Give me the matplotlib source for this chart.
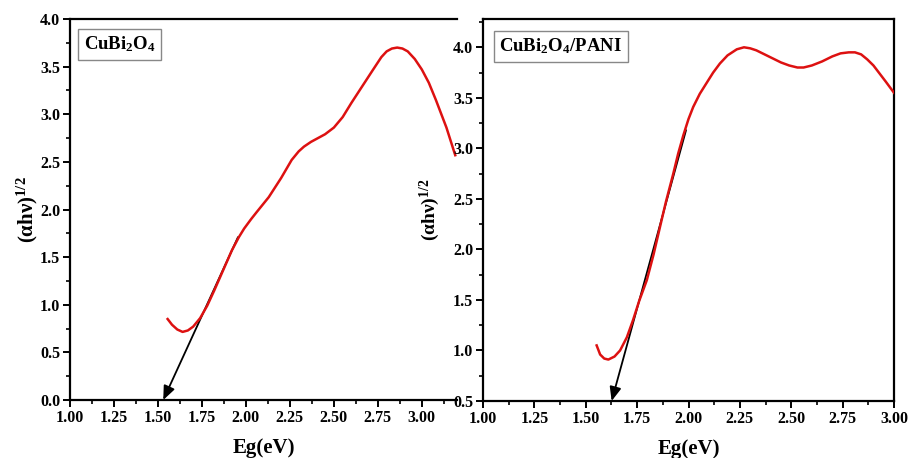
import matplotlib
matplotlib.use("Agg")
import matplotlib.pyplot as plt
from matplotlib.ticker import MultipleLocator, AutoMinorLocator, FormatStrFormatter

plt.rcParams['font.family'] = ['Liberation Serif', 'DejaVu Serif']
plt.rcParams['font.weight'] = 'bold'
plt.rcParams['mathtext.fontset'] = 'custom'
plt.rcParams['mathtext.rm'] = 'Liberation Serif:bold'
plt.rcParams['mathtext.it'] = 'Liberation Serif:bold'
plt.rcParams['mathtext.bf'] = 'Liberation Serif:bold'

# CuBi2O4
eg1 = [1.555, 1.58, 1.61, 1.64, 1.67, 1.70, 1.74, 1.78, 1.82, 1.87, 1.92, 1.96, 1.99,
       2.03, 2.06, 2.13, 2.20, 2.26, 2.30, 2.33, 2.37, 2.40, 2.45, 2.50, 2.55, 2.60,
       2.66, 2.72, 2.77, 2.80, 2.83, 2.86, 2.89, 2.92, 2.96, 3.00, 3.04, 3.08, 3.14, 3.19]
ah1 = [0.85, 0.79, 0.74, 0.715, 0.73, 0.77, 0.86, 0.99, 1.15, 1.36, 1.57, 1.71, 1.80,
       1.90, 1.97, 2.13, 2.33, 2.52, 2.61, 2.66, 2.71, 2.74, 2.79, 2.86, 2.97, 3.12,
       3.29, 3.46, 3.60, 3.66, 3.69, 3.70, 3.69, 3.66, 3.58, 3.47, 3.33, 3.15, 2.86, 2.57]
fit1_start = (1.955, 1.71)
fit1_end = (1.53, 0.0)

# CuBi2O4/PANI
eg2 = [1.553, 1.57, 1.59, 1.61, 1.64, 1.667, 1.70, 1.73, 1.76, 1.797, 1.83, 1.861, 1.89,
       1.926, 1.95, 1.975, 2.00, 2.023, 2.055, 2.089, 2.12, 2.153, 2.19, 2.235, 2.27,
       2.30, 2.33, 2.37, 2.41, 2.45, 2.49, 2.53, 2.56, 2.60, 2.65, 2.70, 2.74, 2.78,
       2.81, 2.84, 2.87, 2.90, 2.93, 2.96, 3.00]
ah2 = [1.05, 0.96, 0.92, 0.91, 0.94, 1.00, 1.13, 1.30, 1.49, 1.695, 1.95, 2.22, 2.47,
       2.75, 2.95, 3.13, 3.29, 3.41, 3.54, 3.65, 3.75, 3.84, 3.92, 3.98, 4.00,
       3.99, 3.97, 3.93, 3.89, 3.85, 3.82, 3.80, 3.80, 3.82, 3.86, 3.91, 3.94, 3.95,
       3.95, 3.93, 3.88, 3.82, 3.74, 3.66, 3.55]
fit2_start = (1.988, 3.18)
fit2_end = (1.626, 0.5)

labels = ['CuBi$_2$O$_4$', 'CuBi$_2$O$_4$/PANI']
xlabel = 'Eg(eV)'
ylabel = r'(αhν)$^{1/2}$'

W, H = 909, 458
fig = plt.figure(figsize=(W / 100, H / 100), dpi=100)

def box(l, r, t, b):
    return [l / W, 1 - b / H, (r - l) / W, (b - t) / H]

ax1 = fig.add_axes(box(70, 457, 19, 400))
ax2 = fig.add_axes(box(483, 894, 19, 401))

red = '#dd1111'
for ax in (ax1, ax2):
    for s in ax.spines.values():
        s.set_linewidth(1.6)
    ax.tick_params(which='major', direction='out', length=5, width=1.4, labelsize=11.5, pad=2)
    ax.tick_params(which='minor', direction='out', length=3, width=1.2)
    ax.xaxis.set_major_locator(MultipleLocator(0.25))
    ax.xaxis.set_minor_locator(AutoMinorLocator(2))
    ax.xaxis.set_major_formatter(FormatStrFormatter('%.2f'))
    ax.yaxis.set_major_locator(MultipleLocator(0.5))
    ax.yaxis.set_minor_locator(AutoMinorLocator(2))
    ax.yaxis.set_major_formatter(FormatStrFormatter('%.1f'))
    for lab in ax.get_xticklabels() + ax.get_yticklabels():
        lab.set_fontweight('bold')
    ax.set_xlabel(xlabel, fontsize=15, fontweight='bold', labelpad=9)

ax1.spines['right'].set_visible(False)
ax1.set_xlim(1.0, 3.2)
ax1.set_ylim(0.0, 4.0)
ax2.set_xlim(1.0, 3.0)
ax2.set_ylim(0.5, 4.28)

ax1.plot(eg1, ah1, color=red, lw=1.8, zorder=3)
ax2.plot(eg2, ah2, color=red, lw=1.8, zorder=3)

for ax, s, e in ((ax1, fit1_start, fit1_end), (ax2, fit2_start, fit2_end)):
    ax.annotate('', xy=e, xytext=s,
                arrowprops=dict(arrowstyle='-|>,head_length=0.6,head_width=0.25', color='black', lw=1.3,
                                mutation_scale=14, shrinkA=0, shrinkB=0),
                annotation_clip=False, zorder=2)

ax1.set_ylabel(ylabel, fontsize=15, fontweight='bold', labelpad=0)
ax2.set_ylabel(ylabel, fontsize=14, fontweight='bold', labelpad=8)

bp = dict(boxstyle='square,pad=0.3', facecolor='white', edgecolor='#888888', lw=1.0)
ax1.text(0.035, 0.96, labels[0], transform=ax1.transAxes, fontsize=13.5, fontweight='bold',
         va='top', ha='left', bbox=bp)
ax2.text(0.04, 0.955, labels[1], transform=ax2.transAxes, fontsize=13.5, fontweight='bold',
         va='top', ha='left', bbox=bp)

fig.savefig('out.png', dpi=100)
